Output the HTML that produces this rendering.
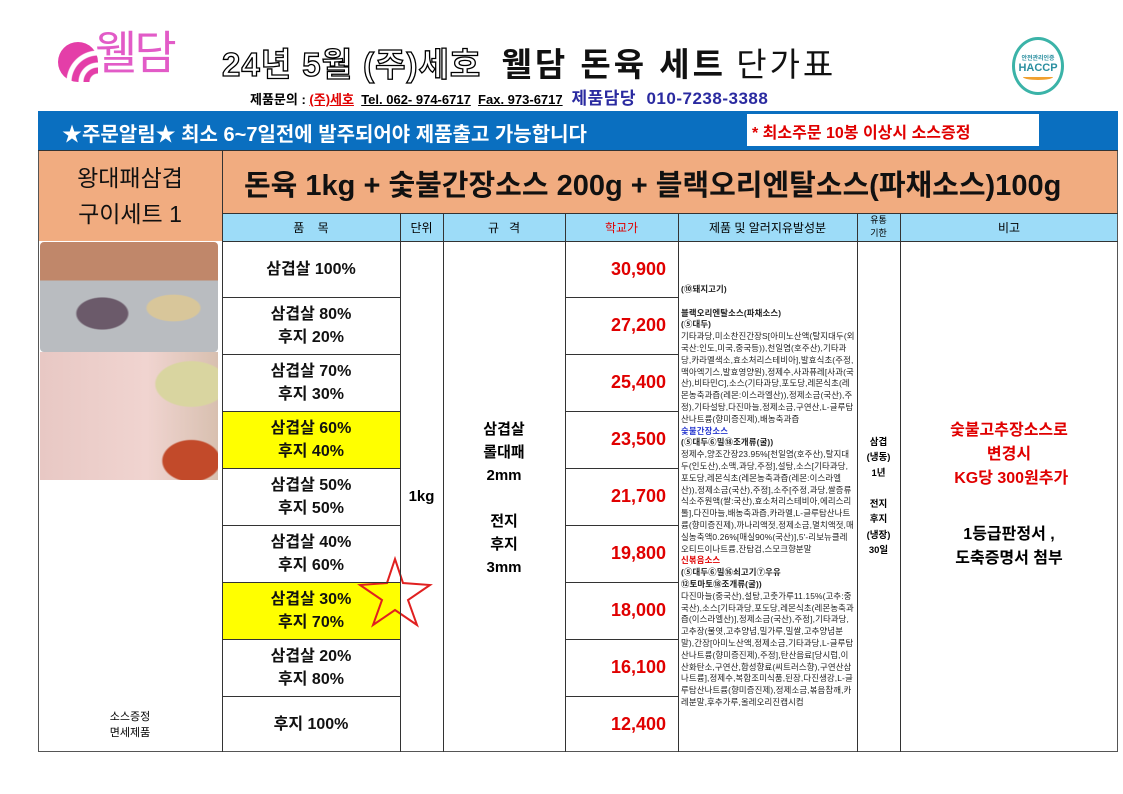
<!DOCTYPE html>
<html><head><meta charset="utf-8">
<style>
*{margin:0;padding:0;box-sizing:border-box}
body{width:1123px;height:794px;background:#fff;position:relative;overflow:hidden;font-family:"Liberation Sans","Noto Sans CJK KR",sans-serif}
.a{position:absolute}
.c{display:flex;align-items:center;justify-content:center;text-align:center}
.vl{position:absolute;width:1px;background:#333}
.hl{position:absolute;height:1px;background:#333}
.item{font-size:16px;font-weight:bold;line-height:23px;color:#111}
.price{font-size:18px;font-weight:bold;color:#e00000}
.ing{font-size:8.4px;line-height:11.8px;color:#222;letter-spacing:0.15px;word-break:break-all}
</style></head><body>
<!-- logo -->
<div class="a" style="left:58px;top:42px;width:40px;height:40px;border-radius:50% 50% 0 50%;background:radial-gradient(circle at 100% 100%,#fff 0 8px,#e43ea8 9px 14px,#fff 15px 19px,#e43ea8 20px 26px,#fff 27px 31px,#e43ea8 32px);"></div>
<div class="a" style="left:95px;top:28px;font-size:46px;color:#e25bc7;line-height:50px;letter-spacing:-3px">웰담</div>
<!-- title -->
<div class="a" style="left:222px;top:38px;font-size:33px;font-weight:bold;color:#111;white-space:nowrap;letter-spacing:1px"><span style="color:#fff;-webkit-text-stroke:1.3px #000">24년 5월 (주)세호</span> &nbsp;<span style="letter-spacing:3px">웰담 돈육 세트</span> <span style="font-weight:normal;letter-spacing:3px">단가표</span></div>
<div class="a" style="left:250px;top:84px;font-size:13px;font-weight:bold;white-space:nowrap">제품문의 : <span style="color:#e00000;text-decoration:underline">(주)세호</span> &nbsp;<span style="text-decoration:underline">Tel. 062- 974-6717</span> &nbsp;<span style="text-decoration:underline">Fax. 973-6717</span> <span style="color:#2a2aa0;font-size:17px;letter-spacing:0.5px">&nbsp;제품담당 &nbsp;010-7238-3388</span></div>
<!-- haccp -->
<div class="a c" style="left:1012px;top:37px;width:52px;height:58px;border-radius:50%;border:3px solid #3bb3a8;flex-direction:column;font-size:11px;font-weight:bold;color:#2a8fa0;background:#fff"><span style="font-size:6px">안전관리인증</span>HACCP<span style="display:block;width:30px;height:6px;border-bottom:3px solid #f0a030;border-radius:0 0 50% 50%"></span></div>
<!-- banner -->
<div class="a" style="left:38px;top:111px;width:1080px;height:39px;background:#0a6fc0"></div>
<div class="a" style="left:62px;top:118px;font-size:20px;font-weight:bold;color:#fff;white-space:nowrap">★주문알림★ 최소 6~7일전에 발주되어야 제품출고 가능합니다</div>
<div class="a" style="left:747px;top:114px;width:292px;height:32px;background:#fff;font-size:16px;font-weight:bold;color:#e00000;padding:5px 5px">* 최소주문 10봉 이상시 소스증정</div>
<!-- orange row -->
<div class="a" style="left:38px;top:150px;width:1080px;height:63px;background:#f1ac80"></div>
<div class="a" style="left:38px;top:213px;width:184px;height:28px;background:#f1ac80"></div>
<div class="a c" style="left:38px;top:150px;width:184px;height:91px;font-size:23px;line-height:36px;color:#111">왕대패삼겹<br>구이세트 1</div>
<div class="a" style="left:244px;top:162px;font-size:29px;font-weight:bold;color:#111;white-space:nowrap;letter-spacing:0px">돈육 1kg + 숯불간장소스 200g + 블랙오리엔탈소스(파채소스)100g</div>
<!-- header row -->
<div class="a" style="left:222px;top:213px;width:896px;height:28px;background:#9ddcf8"></div>
<div class="a c" style="left:222px;top:213px;width:178px;height:28px;font-size:12px">품 &nbsp; &nbsp;목</div>
<div class="a c" style="left:400px;top:213px;width:43px;height:28px;font-size:12px">단위</div>
<div class="a c" style="left:443px;top:213px;width:122px;height:28px;font-size:12px">규 &nbsp; 격</div>
<div class="a c" style="left:565px;top:213px;width:113px;height:28px;font-size:12px;color:#e00000">학교가</div>
<div class="a c" style="left:678px;top:213px;width:179px;height:28px;font-size:12px">제품 및 알러지유발성분</div>
<div class="a c" style="left:857px;top:213px;width:43px;height:28px;font-size:9px;line-height:13px">유통<br>기한</div>
<div class="a c" style="left:900px;top:213px;width:218px;height:28px;font-size:12px">비고</div>
<!-- yellow cells -->
<div class="a" style="left:222px;top:411px;width:178px;height:57px;background:#ffff00"></div>
<div class="a" style="left:222px;top:582px;width:178px;height:57px;background:#ffff00"></div>
<!-- photos -->
<div class="a" style="left:40px;top:242px;width:178px;height:110px;background:radial-gradient(ellipse at 35% 65%,#6b5a6a 0 25px,transparent 27px),radial-gradient(ellipse at 75% 60%,#d8c69a 0 26px,transparent 28px),linear-gradient(#c0876a 0 35%,#b9bcc0 35%);border-radius:4px"></div>
<div class="a" style="left:40px;top:352px;width:178px;height:128px;background:radial-gradient(ellipse at 85% 85%,#c24a2a 0 28px,transparent 30px),radial-gradient(ellipse at 85% 25%,#d9d5a0 0 35px,transparent 37px),linear-gradient(90deg,#e8c8c4,#f0d4d0 60%,#d8c0b0)"></div>
<div class="a c" style="left:38px;top:708px;width:184px;height:34px;font-size:11px;line-height:16px">소스증정<br>면세제품</div>
<!-- items -->
<div class="a c item" style="left:222px;top:241px;width:178px;height:56px">삼겹살 100%</div>
<div class="a c item" style="left:222px;top:297px;width:178px;height:57px">삼겹살 80%<br>후지 20%</div>
<div class="a c item" style="left:222px;top:354px;width:178px;height:57px">삼겹살 70%<br>후지 30%</div>
<div class="a c item" style="left:222px;top:411px;width:178px;height:57px">삼겹살 60%<br>후지 40%</div>
<div class="a c item" style="left:222px;top:468px;width:178px;height:57px">삼겹살 50%<br>후지 50%</div>
<div class="a c item" style="left:222px;top:525px;width:178px;height:57px">삼겹살 40%<br>후지 60%</div>
<div class="a c item" style="left:222px;top:582px;width:178px;height:57px">삼겹살 30%<br>후지 70%</div>
<div class="a c item" style="left:222px;top:639px;width:178px;height:57px">삼겹살 20%<br>후지 80%</div>
<div class="a c item" style="left:222px;top:696px;width:178px;height:56px">후지 100%</div>
<!-- prices -->
<div class="a c price" style="left:565px;top:241px;width:113px;height:56px;justify-content:flex-end;padding-right:12px">30,900</div>
<div class="a c price" style="left:565px;top:297px;width:113px;height:57px;justify-content:flex-end;padding-right:12px">27,200</div>
<div class="a c price" style="left:565px;top:354px;width:113px;height:57px;justify-content:flex-end;padding-right:12px">25,400</div>
<div class="a c price" style="left:565px;top:411px;width:113px;height:57px;justify-content:flex-end;padding-right:12px">23,500</div>
<div class="a c price" style="left:565px;top:468px;width:113px;height:57px;justify-content:flex-end;padding-right:12px">21,700</div>
<div class="a c price" style="left:565px;top:525px;width:113px;height:57px;justify-content:flex-end;padding-right:12px">19,800</div>
<div class="a c price" style="left:565px;top:582px;width:113px;height:57px;justify-content:flex-end;padding-right:12px">18,000</div>
<div class="a c price" style="left:565px;top:639px;width:113px;height:57px;justify-content:flex-end;padding-right:12px">16,100</div>
<div class="a c price" style="left:565px;top:696px;width:113px;height:56px;justify-content:flex-end;padding-right:12px">12,400</div>
<!-- unit/spec -->
<div class="a c" style="left:400px;top:241px;width:43px;height:511px;font-size:15px;font-weight:bold">1kg</div>
<div class="a c" style="left:443px;top:413px;width:122px;height:170px;font-size:15px;font-weight:bold;line-height:23px">삼겹살<br>롤대패<br>2mm<br><br>전지<br>후지<br>3mm</div>
<!-- ingredients -->
<div class="a ing" style="left:681px;top:284px;width:174px">
<b>(⑩돼지고기)</b><br><br>
<b>블랙오리엔탈소스(파채소스)</b><br><b>(⑤대두)</b><br>
기타과당,미소찬진간장S[아미노산액(탈지대두(외국산:인도,미국,중국등)),천일염(호주산),기타과당,카라멜색소,효소처리스테비아],발효식초(주정,맥아엑기스,발효영양원),정제수,사과퓨레[사과(국산),비타민C],소스(기타과당,포도당,레몬식초(레몬농축과즙(레몬:이스라엘산)),정제소금(국산),주정),기타설탕,다진마늘,정제소금,구연산,L-글루탐산나트륨(향미증진제),배농축과즙<br>
<b style="color:#2a3ad0">숯불간장소스</b><br><b>(⑤대두⑥밀⑱조개류(굴))</b><br>
정제수,양조간장23.95%[천일염(호주산),탈지대두(인도산),소맥,과당,주정],설탕,소스[기타과당,포도당,레몬식초(레몬농축과즙(레몬:이스라엘산)),정제소금(국산),주정],소주[주정,과당,쌀증류식소주원액(쌀:국산),효소처리스테비아,에리스리톨],다진마늘,배농축과즙,카라멜,L-글루탐산나트륨(향미증진제),까나리액젓,정제소금,멸치액젓,매실농축액0.26%[매실90%(국산)],5'-리보뉴클레오티드이나트륨,잔탐검,스모크향분말<br>
<b style="color:#e00000">신볶음소스</b><br><b>(⑤대두⑥밀⑯쇠고기⑦우유<br>⑫토마토⑱조개류(굴))</b><br>
다진마늘(중국산),설탕,고춧가루11.15%(고추:중국산),소스[기타과당,포도당,레몬식초(레몬농축과즙(이스라엘산)],정제소금(국산),주정],기타과당,고추장(물엿,고추양념,밀가루,밀쌀,고추양념분말),간장[아미노산액,정제소금,기타과당,L-글루탐산나트륨(향미증진제),주정],탄산음료[당시럽,이산화탄소,구연산,합성향료(씨트러스향),구연산삼나트륨],정제수,복합조미식품,된장,다진생강,L-글루탐산나트륨(향미증진제),정제소금,볶음참깨,카레분말,후추가루,올레오리진캡시컴
</div>
<div class="a c" style="left:857px;top:241px;width:43px;height:511px;font-size:9.5px;font-weight:bold;line-height:15.5px">삼겹<br>(냉동)<br>1년<br><br>전지<br>후지<br>(냉장)<br>30일</div>
<div class="a c" style="left:900px;top:415px;width:218px;height:80px;font-size:16px;font-weight:bold;color:#e00000;line-height:24px">숯불고추장소스로<br>변경시<br>&nbsp;KG당 300원추가</div>
<div class="a c" style="left:900px;top:517px;width:218px;height:60px;font-size:16px;font-weight:bold;line-height:24px">1등급판정서 ,<br>도축증명서 첨부</div>
<!-- star -->
<svg class="a" style="left:355px;top:555px" width="80" height="75"><polygon points="40,4 48,28 75,30 53,45 62,70 40,55 18,70 27,45 5,30 32,28" fill="none" stroke="#e02020" stroke-width="2"/></svg>
<!-- grid lines -->
<div class="a" style="left:38px;top:150px;width:1080px;height:602px;border:1px solid #555"></div>
<div class="hl" style="left:38px;top:150px;width:1080px"></div>
<div class="hl" style="left:222px;top:213px;width:896px"></div>
<div class="hl" style="left:222px;top:241px;width:896px"></div>
<div class="hl" style="left:222px;top:297px;width:178px"></div><div class="hl" style="left:565px;top:297px;width:113px"></div>
<div class="hl" style="left:222px;top:354px;width:178px"></div><div class="hl" style="left:565px;top:354px;width:113px"></div>
<div class="hl" style="left:222px;top:411px;width:178px"></div><div class="hl" style="left:565px;top:411px;width:113px"></div>
<div class="hl" style="left:222px;top:468px;width:178px"></div><div class="hl" style="left:565px;top:468px;width:113px"></div>
<div class="hl" style="left:222px;top:525px;width:178px"></div><div class="hl" style="left:565px;top:525px;width:113px"></div>
<div class="hl" style="left:222px;top:582px;width:178px"></div><div class="hl" style="left:565px;top:582px;width:113px"></div>
<div class="hl" style="left:222px;top:639px;width:178px"></div><div class="hl" style="left:565px;top:639px;width:113px"></div>
<div class="hl" style="left:222px;top:696px;width:178px"></div><div class="hl" style="left:565px;top:696px;width:113px"></div>
<div class="vl" style="left:222px;top:150px;height:602px"></div>
<div class="vl" style="left:400px;top:213px;height:539px"></div>
<div class="vl" style="left:443px;top:213px;height:539px"></div>
<div class="vl" style="left:565px;top:213px;height:539px"></div>
<div class="vl" style="left:678px;top:213px;height:539px"></div>
<div class="vl" style="left:857px;top:213px;height:539px"></div>
<div class="vl" style="left:900px;top:213px;height:539px"></div>
</body></html>
